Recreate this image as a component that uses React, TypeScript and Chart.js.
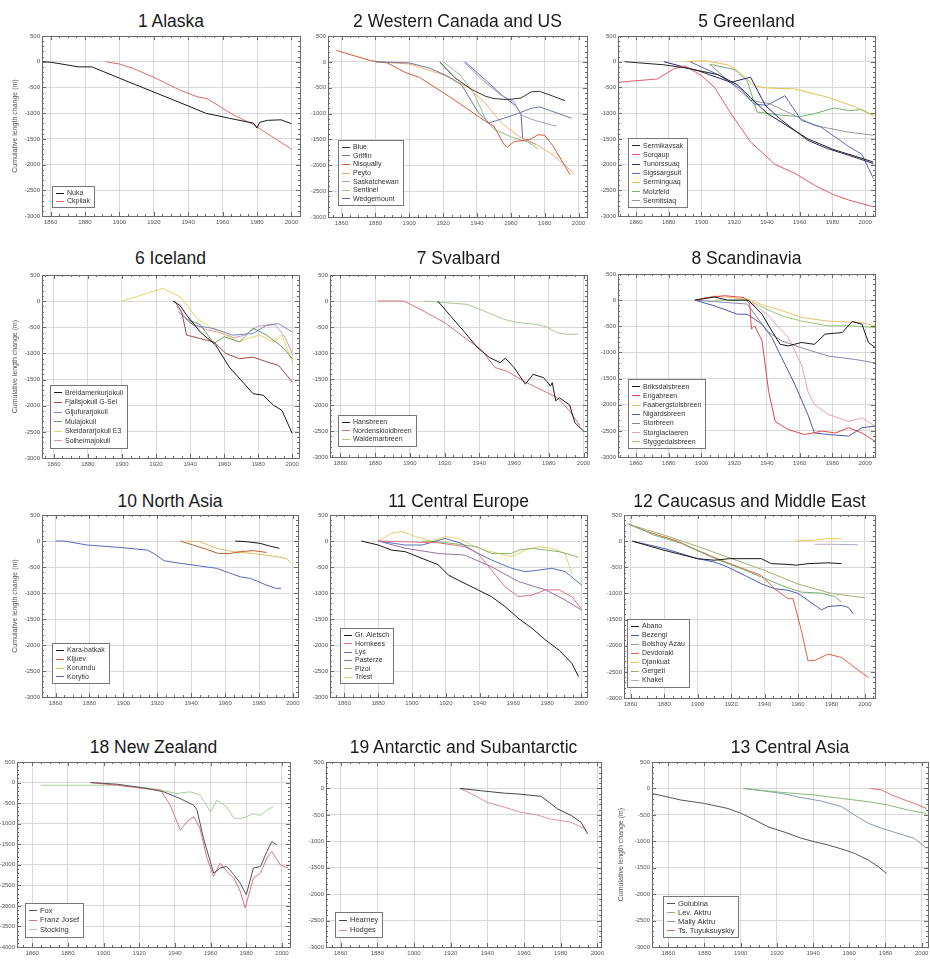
import React, { useEffect, useRef } from 'react';
import { Chart, registerables } from 'chart.js';
Chart.register(...registerables);

type Pt = [number, number];

// ---------- 1 Alaska ----------
const alaskaNames = ['Nuka', 'Ckpilak'];
const nuka: Pt[] = [[1855,0],[1860,-10],[1870,-65],[1876,-100],[1884,-100],[1900,-320],[1920,-590],[1940,-860],[1950,-1000],[1964,-1100],[1978,-1195],[1980,-1290],[1981.5,-1180],[1986,-1140],[1994,-1130],[2000,-1205]];
const ckpilak: Pt[] = [[1892,0],[1900,-45],[1908,-130],[1921,-320],[1935,-550],[1945,-680],[1951,-720],[1958,-860],[1966,-1030],[1978,-1225],[2000,-1700]];

// ---------- 2 Western Canada and US ----------
const wcNames = ['Blue', 'Griffin', 'Nisqually', 'Peyto', 'Saskatchewan', 'Sentinel', 'Wedgemount'];
const blue: Pt[] = [[1918,0],[1927,-310],[1937,-535],[1945,-665],[1950,-710],[1958,-730],[1966,-700],[1972,-580],[1977,-570],[1985,-665],[1992,-750]];
const griffin: Pt[] = [[1880,0],[1900,-20],[1912,-120],[1923,-280],[1931,-450],[1941,-990],[1947,-1180],[1955,-1100],[1964,-1000],[1972,-900],[1977,-870],[1996,-1090]];
const nisqually: Pt[] = [[1857,220],[1877,25],[1887,-20],[1898,-210],[1906,-300],[1925,-700],[1945,-1150],[1950,-1245],[1956,-1600],[1958,-1650],[1962,-1540],[1968,-1520],[1972,-1490],[1976,-1410],[1980,-1420],[1985,-1630],[1995,-2180]];
const peyto: Pt[] = [[1880,0],[1900,-40],[1920,-250],[1935,-500],[1945,-800],[1955,-1200],[1965,-1450],[1975,-1600],[1985,-1800],[1997,-2150]];
const saskatchewan: Pt[] = [[1932,0],[1943,-340],[1954,-640],[1962,-770],[1966,-1030],[1974,-1130],[1987,-1245]];
const sentinel: Pt[] = [[1920,0],[1930,-250],[1938,-600],[1945,-1100],[1950,-1300],[1960,-1450],[1970,-1550],[1976,-1680]];
const wedgemount: Pt[] = [[1933,0],[1945,-350],[1955,-650],[1963,-850],[1966,-1000],[1967,-1480],[1975,-1600]];

// ---------- 5 Greenland ----------
const grNames = ['Sermikavsak', 'Sorqaup', 'Tunorssuaq', 'Sigssargsuit', 'Serminguaq', 'Motzfeld', 'Sermitsiaq'];
const sermikavsak: Pt[] = [[1853,0],[1877,-60],[1890,-120],[1910,-250],[1922,-450],[1930,-700],[1940,-1000],[1950,-1200],[1965,-1500],[1980,-1700],[1995,-1850],[2005,-1950]];
const sorqaup: Pt[] = [[1849,-400],[1873,-335],[1883,-140],[1890,-80],[1900,-270],[1908,-500],[1918,-1010],[1930,-1560],[1945,-2000],[1957,-2170],[1969,-2400],[1981,-2590],[1990,-2690],[2005,-2820]];
const tunorssuaq: Pt[] = [[1877,0],[1898,-175],[1918,-400],[1930,-300],[1939,-850],[1949,-1140],[1965,-1530],[1977,-1690],[1990,-1820],[2005,-1980]];
const sigssargsuit: Pt[] = [[1893,0],[1910,-250],[1924,-530],[1932,-820],[1940,-850],[1951,-660],[1961,-1140],[1973,-1270],[1990,-1650],[1998,-1800],[2005,-2270]];
const serminguaq: Pt[] = [[1890,0],[1902,20],[1916,-60],[1922,-170],[1932,-460],[1939,-510],[1957,-530],[1977,-690],[1994,-880],[2005,-1050]];
const motzfeld: Pt[] = [[1905,-50],[1920,-150],[1928,-370],[1934,-980],[1949,-1040],[1960,-1070],[1969,-1010],[1981,-900],[1990,-950],[1998,-930],[2005,-1050]];
const sermitsiaq: Pt[] = [[1905,-50],[1930,-750],[1942,-820],[1954,-1000],[1969,-1240],[1990,-1370],[2005,-1430]];

// ---------- 6 Iceland ----------
const icNames = ['Breidamerkurjokull', 'Fjallsjokull G-Sel', 'Gljufurarjokull', 'Mulajokull', 'Skeidararjokull E3', 'Solheimajokull'];
const breidamerkur: Pt[] = [[1930,0],[1934,-80],[1938,-270],[1946,-590],[1955,-840],[1963,-1260],[1971,-1550],[1977,-1770],[1983,-1800],[1989,-1990],[1994,-2090],[2000,-2530]];
const fjallsjokull: Pt[] = [[1931,0],[1935,-200],[1938,-650],[1946,-715],[1954,-780],[1961,-1000],[1969,-1100],[1977,-1070],[1985,-1160],[1992,-1230],[2000,-1545]];
const gljufurar: Pt[] = [[1933,-200],[1942,-460],[1954,-525],[1965,-650],[1977,-620],[1985,-460],[1992,-430],[2000,-590]];
const mulajokull: Pt[] = [[1937,-330],[1946,-450],[1954,-810],[1960,-680],[1969,-780],[1977,-520],[1985,-650],[1995,-900],[2000,-1100]];
const skeidarar: Pt[] = [[1900,0],[1924,245],[1928,180],[1934,85],[1939,-110],[1944,-330],[1950,-460],[1955,-560],[1961,-650],[1965,-720],[1969,-780],[1975,-700],[1981,-650],[1985,-720],[1989,-780],[1994,-650],[2000,-1160]];
const solheima: Pt[] = [[1932,-100],[1940,-420],[1950,-550],[1958,-600],[1966,-700],[1972,-650],[1980,-480],[1990,-450],[1996,-700],[2000,-1000]];

// ---------- 7 Svalbard ----------
const svNames = ['Hansbreen', 'Nordenskioldbreen', 'Waldemarbreen'];
const hansbreen: Pt[] = [[1916,0],[1923.5,-290],[1931,-580],[1939,-900],[1946,-1090],[1952,-1185],[1955,-1100],[1960,-1280],[1966.5,-1600],[1971,-1410],[1977,-1475],[1981,-1635],[1982,-1570],[1984,-1920],[1986,-1860],[1992,-2000],[1995,-2340],[2000,-2500]];
const nordenskiold: Pt[] = [[1881.5,0],[1896.5,0],[1906,-160],[1920,-415],[1933,-740],[1941,-930],[1949,-1280],[1956,-1350],[1965.5,-1540],[1977,-1730],[1985,-1860],[1992,-2115],[1998,-2400]];
const waldemar: Pt[] = [[1908,0],[1933,-65],[1942.5,-190],[1954,-350],[1962,-415],[1973,-450],[1979,-500],[1985,-610],[1990,-640],[1997,-640]];

// ---------- 8 Scandinavia ----------
const scNames = ['Briksdalsbreen', 'Engabreen', 'Faabergstolsbreen', 'Nigardsbreen', 'Storbreen', 'Storglaciaeren', 'Styggedalsbreen'];
const briksdal: Pt[] = [[1896,0],[1908,60],[1916,0],[1928.5,0],[1937,-270],[1943,-590],[1948,-845],[1953,-875],[1961,-810],[1969,-845],[1975.5,-650],[1986,-620],[1992,-410],[1998,-460],[2002,-810],[2006,-905]];
const engabreen: Pt[] = [[1896,0],[1904,50],[1914,85],[1926,50],[1929.5,-75],[1930.5,-555],[1932.5,-490],[1937,-780],[1941,-1740],[1945,-2320],[1953,-2475],[1963,-2570],[1973.5,-2505],[1982,-2540],[1990,-2440],[1998,-2540],[2006,-2700]];
const faabergstol: Pt[] = [[1896,0],[1908,80],[1928,20],[1939,-110],[1949,-200],[1961,-330],[1977,-400],[1998,-430],[2006,-490]];
const nigards: Pt[] = [[1896,0],[1908,-110],[1922,-270],[1928,-270],[1937,-460],[1943,-715],[1949,-1100],[1957,-1610],[1965,-2190],[1969,-2540],[1977.6,-2570],[1990,-2600],[1998,-2440],[2006,-2410]];
const storbreen: Pt[] = [[1896,0],[1928,-75],[1940,-590],[1949,-780],[1961,-910],[1977.6,-1070],[1994,-1135],[2006,-1200]];
const storglaciaeren: Pt[] = [[1928,0],[1940,-270],[1953,-715],[1961,-1225],[1965,-1740],[1969,-2000],[1977.6,-2190],[1990,-2320],[1998,-2250],[2006,-2410]];
const styggedal: Pt[] = [[1908,0],[1928,0],[1939,-160],[1949,-300],[1961,-400],[1977,-490],[1990,-490],[2006,-525]];

// ---------- 10 North Asia ----------
const naNames = ['Kara-batkak', 'Kljuev', 'Korumdu', 'Korytio'];
const karaBatkak: Pt[] = [[1966,0],[1973,-15],[1980.6,-45],[1986,-95],[1992,-140]];
const kljuev: Pt[] = [[1933.5,0],[1941,-77],[1949,-160],[1956,-240],[1963,-240],[1969,-205],[1976.7,-185],[1984.5,-220]];
const korumdu: Pt[] = [[1937,0],[1945,-15],[1955,-140],[1965,-205],[1976.7,-240],[1988,-290],[1996,-335],[1999,-420]];
const korytio: Pt[] = [[1860,0],[1865,0],[1878.6,-77],[1900,-130],[1914,-175],[1918,-240],[1924,-380],[1931.6,-420],[1945,-480],[1955,-525],[1963,-620],[1969,-690],[1975,-720],[1984.5,-850],[1990,-910],[1993,-910]];

// ---------- 11 Central Europe ----------
const ceNames = ['Gr. Aletsch', 'Hornkees', 'Lys', 'Pasterze', 'Pizol', 'Triest'];
const aletsch: Pt[] = [[1870,0],[1880,-77],[1888,-175],[1896,-205],[1906,-335],[1915.6,-460],[1921.5,-655],[1929,-780],[1939,-940],[1947,-1070],[1955,-1260],[1963,-1490],[1971,-1680],[1979,-1905],[1987,-2100],[1994.5,-2350],[1998.5,-2610]];
const hornkees: Pt[] = [[1880,0],[1896,-15],[1915.6,-35],[1931.4,-110],[1939,-240],[1947,-560],[1955,-880],[1963,-1070],[1971,-1040],[1979,-940],[1987,-940],[1994.5,-1070],[2000,-1300]];
const lys: Pt[] = [[1880,0],[1896,-77],[1906,-77],[1919.6,50],[1929,-45],[1939,-240],[1947,-365],[1959,-525],[1967,-590],[1975,-560],[1982.7,-525],[1990.6,-590],[2000.4,-850]];
const pasterze: Pt[] = [[1880,0],[1896,-140],[1915.6,-240],[1931,-270],[1947,-495],[1963,-780],[1979,-940],[1990.6,-1135],[2000.4,-1330]];
const pizol: Pt[] = [[1906,0],[1915.6,-15],[1931,-77],[1939,-120],[1947,-240],[1955,-240],[1959,-240],[1963,-175],[1971,-140],[1979,-175],[1987,-205],[1994.5,-270],[1998.5,-315]];
const triest: Pt[] = [[1880,0],[1888,150],[1894,180],[1902,85],[1912,0],[1919.6,85],[1927.5,50],[1935,-75],[1943,-175],[1951,-240],[1959,-300],[1967,-175],[1975,-110],[1982.7,-140],[1990.6,-240],[1994.5,-625]];

// ---------- 12 Caucasus and Middle East ----------
const cmNames = ['Abano', 'Bezengi', 'Bolshoy Azau', 'Devdoraki', 'Djankuat', 'Gergeti', 'Khakel'];
const abano: Pt[] = [[1861,0],[1880,-175],[1900,-335],[1910,-365],[1919,-335],[1938,-335],[1944,-430],[1954,-445],[1959,-460],[1966,-430],[1978,-415],[1986,-430]];
const bezengi: Pt[] = [[1861,0],[1880,-140],[1900,-335],[1910,-400],[1918,-495],[1930,-685],[1938,-815],[1946,-910],[1954,-940],[1960,-1000],[1966,-1135],[1974,-1315],[1978,-1250],[1986,-1230],[1990,-1265],[1993,-1390]];
const bolshoyAzau: Pt[] = [[1858,340],[1874,115],[1890,-40],[1910,-330],[1926,-525],[1938,-685],[1950,-845],[1962,-975],[1974,-995],[1982,-1060],[1986,-1165]];
const devdoraki: Pt[] = [[1859,320],[1870,180],[1888,0],[1900,-175],[1914,-365],[1930,-560],[1938,-655],[1946,-910],[1954,-1100],[1957,-1100],[1962,-1710],[1966,-2290],[1970,-2280],[1978,-2160],[1986,-2225],[1994,-2420],[2002,-2610]];
const djankuat: Pt[] = [[1958,0],[1970,20],[1978,50],[1986,40]];
const gergeti: Pt[] = [[1859,320],[1880,115],[1900,-100],[1920,-330],[1940,-560],[1960,-820],[1980,-1000],[2000,-1085]];
const khakel: Pt[] = [[1970,-60],[1980,-60],[1996,-70]];

// ---------- 18 New Zealand ----------
const nzNames = ['Fox', 'Franz Josef', 'Stocking'];
const fox: Pt[] = [[1892.6,0],[1907.6,-40],[1922.5,-130],[1933.7,-225],[1943,-390],[1950.5,-550],[1952.4,-670],[1956,-1355],[1961.7,-2200],[1965.4,-2080],[1969,-2040],[1973,-2240],[1976.6,-2445],[1980,-2725],[1984,-2080],[1988,-2040],[1991.5,-1680],[1994.3,-1435],[1997,-1515]];
const franzJosef: Pt[] = [[1892.6,0],[1907.6,-65],[1922.5,-145],[1932,-185],[1937.4,-550],[1943,-1155],[1946.8,-950],[1950.5,-830],[1954,-1110],[1958,-1840],[1961.7,-2280],[1965.4,-1960],[1969,-2160],[1973,-2320],[1976.6,-2645],[1979.4,-3050],[1984,-2320],[1988,-2200],[1991.5,-1840],[1994.3,-1680],[1999,-2000],[2003.6,-2080]];
const stocking: Pt[] = [[1864.7,-65],[1885,-65],[1907.6,-65],[1928,-145],[1941,-265],[1948.6,-225],[1954,-300],[1960,-710],[1963.5,-430],[1969,-590],[1973,-870],[1977,-870],[1980,-830],[1984,-760],[1988,-800],[1991.5,-670],[1995,-590]];

// ---------- 19 Antarctic and Subantarctic ----------
const anNames = ['Hearney', 'Hodges'];
const hearney: Pt[] = [[1925,0],[1936.8,-45],[1949.4,-90],[1956.7,-105],[1969.4,-150],[1978.4,-390],[1985.7,-510],[1991.1,-640],[1994.7,-860]];
const hodges: Pt[] = [[1925,0],[1931.5,-105],[1940,-265],[1949.4,-355],[1958,-450],[1967,-500],[1974,-575],[1985.5,-640],[1992.5,-750],[1994.5,-795]];

// ---------- 13 Central Asia ----------
const caNames = ['Golubina', 'Lev. Aktru', 'Maliy Aktru', 'Ts. Tuyuksuyskiy'];
const golubina: Pt[] = [[1851,-95],[1867,-220],[1880,-285],[1893,-380],[1900.5,-475],[1908,-600],[1915,-725],[1924.5,-830],[1933.7,-945],[1941,-1010],[1948.4,-1070],[1957.6,-1165],[1963,-1230],[1970.5,-1355],[1976,-1480],[1980.6,-1610]];
const levAktru: Pt[] = [[1901.4,0],[1922.6,-75],[1941,-125],[1955.8,-190],[1970.5,-250],[1981.5,-315],[1992.6,-410],[2002.7,-475]];
const maliyAktru: Pt[] = [[1901.4,0],[1913.4,-50],[1922.6,-95],[1933.7,-175],[1944.7,-240],[1955.8,-345],[1963,-505],[1970.5,-660],[1978,-755],[1987,-850],[1996,-945],[2002.7,-1135]];
const tuyuksu: Pt[] = [[1971.4,0],[1978,-30],[1983.4,-125],[1990.8,-220],[1996,-285],[2002.7,-380]];

const Y_TITLE = 'Cumulative length change (m)';
const FONT = "'Liberation Sans', Arial, Helvetica, sans-serif";

interface PanelCfg {
  title: string;
  names: string[];
  series: Pt[][];
  colors: string[];
  rect: [number, number, number, number];
  xr: [number, number];
  yr: [number, number];
  canvasLeft: number;
  titleY: number;
  yTitlePad: number | null;
  legend: { dx: number; dy: number; lh: number; fs: number };
}

const PANELS: PanelCfg[] = [
  { title: '1 Alaska', names: alaskaNames, series: [nuka, ckpilak], colors: ['#1a1a1a', '#e06a6a'],
    rect: [42, 36, 300, 216], xr: [1855, 2005], yr: [-3000, 500], canvasLeft: 0, titleY: 21, yTitlePad: 11,
    legend: { dx: 10, dy: 9, lh: 8, fs: 7 } },
  { title: '2 Western Canada and US', names: wcNames, series: [blue, griffin, nisqually, peyto, saskatchewan, sentinel, wedgemount],
    colors: ['#333333', '#6a7a9a', '#d05a3a', '#f0b070', '#a898c8', '#98c088', '#5a6ab8'],
    rect: [328, 36, 587, 217], xr: [1852, 2005], yr: [-3000, 500], canvasLeft: 305, titleY: 21, yTitlePad: null,
    legend: { dx: 10, dy: 12, lh: 8.6, fs: 7 } },
  { title: '5 Greenland', names: grNames, series: [sermikavsak, sorqaup, tunorssuaq, sigssargsuit, serminguaq, motzfeld, sermitsiaq],
    colors: ['#222222', '#e05c6c', '#2a2a6a', '#5a6ac0', '#e8c050', '#78b070', '#999999'],
    rect: [618, 36, 875, 216], xr: [1849, 2006], yr: [-3000, 500], canvasLeft: 595, titleY: 21, yTitlePad: null,
    legend: { dx: 10, dy: 9, lh: 9.2, fs: 7 } },
  { title: '6 Iceland', names: icNames, series: [breidamerkur, fjallsjokull, gljufurar, mulajokull, skeidarar, solheima],
    colors: ['#1a1a1a', '#a04848', '#7888c0', '#6aa060', '#e8d460', '#d898b0'],
    rect: [42, 275, 299, 458], xr: [1853, 2004], yr: [-3000, 500], canvasLeft: 0, titleY: 258, yTitlePad: 11,
    legend: { dx: 8, dy: 10, lh: 9.6, fs: 7 } },
  { title: '7 Svalbard', names: svNames, series: [hansbreen, nordenskiold, waldemar], colors: ['#1a1a1a', '#e07070', '#a8c890'],
    rect: [330, 275, 587, 457], xr: [1854, 2002], yr: [-3000, 500], canvasLeft: 305, titleY: 258, yTitlePad: null,
    legend: { dx: 8, dy: 11, lh: 8.6, fs: 7 } },
  { title: '8 Scandinavia', names: scNames, series: [briksdal, engabreen, faabergstol, nigards, storbreen, storglaciaeren, styggedal],
    colors: ['#1a1a1a', '#e04848', '#e8c070', '#4a5aa8', '#8888a8', '#e8a0b8', '#98c878'],
    rect: [618, 274, 875, 457], xr: [1849, 2006], yr: [-3000, 500], canvasLeft: 595, titleY: 258, yTitlePad: null,
    legend: { dx: 10, dy: 9, lh: 9.2, fs: 7 } },
  { title: '10 North Asia', names: naNames, series: [karaBatkak, kljuev, korumdu, korytio], colors: ['#1a1a1a', '#c06030', '#e0b860', '#5868c0'],
    rect: [42, 515, 298, 697], xr: [1852, 2003], yr: [-3000, 500], canvasLeft: 0, titleY: 501, yTitlePad: 11,
    legend: { dx: 10, dy: 14, lh: 8.8, fs: 7 } },
  { title: '11 Central Europe', names: ceNames, series: [aletsch, hornkees, lys, pasterze, pizol, triest],
    colors: ['#1a1a1a', '#e07080', '#5870c0', '#9870b0', '#88b868', '#e8d070'],
    rect: [330, 515, 587, 697], xr: [1851.5, 2003.5], yr: [-3000, 500], canvasLeft: 305, titleY: 501, yTitlePad: null,
    legend: { dx: 10, dy: 14, lh: 8.4, fs: 7 } },
  { title: '12 Caucasus and Middle East', names: cmNames, series: [abano, bezengi, bolshoyAzau, devdoraki, djankuat, gergeti, khakel],
    colors: ['#1a1a1a', '#4a5ab8', '#78b070', '#e06040', '#e8c850', '#a0b070', '#b8a8c8'],
    rect: [624, 515, 875, 698], xr: [1856, 2006], yr: [-3000, 500], canvasLeft: 597, titleY: 501, yTitlePad: null,
    legend: { dx: 3, dy: 11, lh: 9, fs: 7 } },
  { title: '18 New Zealand', names: nzNames, series: [fox, franzJosef, stocking], colors: ['#555555', '#e07080', '#a8d098'],
    rect: [17, 762, 290, 947], xr: [1851.5, 2004.5], yr: [-4000, 500], canvasLeft: -15, titleY: 747, yTitlePad: null,
    legend: { dx: 8, dy: 10, lh: 9.5, fs: 7.5 } },
  { title: '19 Antarctic and Subantarctic', names: anNames, series: [hearney, hodges], colors: ['#444444', '#e090a0'],
    rect: [326, 762, 601, 947], xr: [1852, 2002], yr: [-3000, 500], canvasLeft: 305, titleY: 747, yTitlePad: null,
    legend: { dx: 9, dy: 10, lh: 10, fs: 7.5 } },
  { title: '13 Central Asia', names: caNames, series: [golubina, levAktru, maliyAktru, tuyuksu], colors: ['#555555', '#88b878', '#8898b8', '#e07070'],
    rect: [652, 762, 928, 947], xr: [1851, 2003.5], yr: [-3000, 500], canvasLeft: 613, titleY: 747, yTitlePad: 4,
    legend: { dx: 11, dy: 10, lh: 9, fs: 7.5 } },
];

const framePlugin = {
  id: 'frame',
  afterDraw(chart: any) {
    const { ctx, chartArea: a, scales } = chart;
    const xs = scales.x, ys = scales.y;
    ctx.save();
    ctx.strokeStyle = '#6a6a6a';
    ctx.lineWidth = 1;
    ctx.beginPath();
    for (let v = Math.ceil(xs.min / 5) * 5; v <= xs.max; v += 5) {
      const p = Math.round(xs.getPixelForValue(v)) + 0.5;
      const len = v % 20 === 0 ? 4 : 2;
      ctx.moveTo(p, a.top); ctx.lineTo(p, a.top + len);
      ctx.moveTo(p, a.bottom); ctx.lineTo(p, a.bottom - len);
    }
    for (let v = Math.ceil(ys.min / 100) * 100; v <= ys.max; v += 100) {
      const p = Math.round(ys.getPixelForValue(v)) + 0.5;
      const len = v % 500 === 0 ? 4 : 2;
      ctx.moveTo(a.left, p); ctx.lineTo(a.left + len, p);
      ctx.moveTo(a.right, p); ctx.lineTo(a.right - len, p);
    }
    ctx.stroke();
    ctx.strokeRect(Math.round(a.left) + 0.5, Math.round(a.top) + 0.5, Math.round(a.right - a.left), Math.round(a.bottom - a.top));
    ctx.restore();
  },
};

const legendPlugin = {
  id: 'miniLegend',
  afterDraw(chart: any, _args: any, opts: any) {
    const { ctx, chartArea: a } = chart;
    const items = chart.data.datasets;
    const fs = opts.fs, lh = opts.lh;
    ctx.save();
    ctx.font = `${fs}px ${FONT}`;
    const textW = Math.max(...items.map((d: any) => ctx.measureText(d.label).width));
    const padX = 4, sample = 8, gap = 3, padY = 2.5;
    const w = Math.round(padX + sample + gap + textW + padX);
    const h = Math.round(items.length * lh + padY * 2);
    const x0 = Math.round(a.left + opts.dx), y0 = Math.round(a.bottom - opts.dy - h);
    ctx.fillStyle = '#ffffff';
    ctx.fillRect(x0, y0, w, h);
    ctx.strokeStyle = '#777777';
    ctx.lineWidth = 1;
    ctx.strokeRect(x0 + 0.5, y0 + 0.5, w, h);
    ctx.textBaseline = 'middle';
    ctx.textAlign = 'left';
    items.forEach((d: any, i: number) => {
      const cy = y0 + padY + lh * (i + 0.5);
      ctx.strokeStyle = d.borderColor;
      ctx.lineWidth = 1;
      ctx.beginPath();
      ctx.moveTo(x0 + padX, Math.round(cy) + 0.5);
      ctx.lineTo(x0 + padX + sample, Math.round(cy) + 0.5);
      ctx.stroke();
      ctx.fillStyle = '#333333';
      ctx.fillText(d.label, x0 + padX + sample + gap, cy + 0.5);
    });
    ctx.restore();
  },
};

const PAD_TOP = 6;
const PAD_RIGHT = 12;
const X_H = 14;

function Panel({ cfg }: { cfg: PanelCfg }) {
  const ref = useRef<HTMLCanvasElement>(null);
  const [L, T, R, B] = cfg.rect;
  const yw = L - cfg.canvasLeft;
  const cw = R - cfg.canvasLeft + PAD_RIGHT;
  const ch = B - T + PAD_TOP + X_H;

  useEffect(() => {
    if (!ref.current) return;
    const tickFont = { family: FONT, size: 6 };
    const chart = new Chart(ref.current, {
      type: 'line',
      data: {
        datasets: cfg.series.map((s, i) => ({
          label: cfg.names[i],
          data: s.map(([x, y]) => ({ x, y })),
          borderColor: cfg.colors[i],
          backgroundColor: cfg.colors[i],
          borderWidth: 1,
          pointRadius: 0,
          fill: false,
          tension: 0,
        })),
      },
      options: {
        animation: false,
        responsive: false,
        maintainAspectRatio: false,
        events: [],
        layout: { padding: { top: PAD_TOP, right: PAD_RIGHT, left: 0, bottom: 0 } },
        plugins: {
          legend: { display: false },
          tooltip: { enabled: false },
          title: { display: false },
          miniLegend: cfg.legend,
        } as any,
        scales: {
          x: {
            type: 'linear',
            min: cfg.xr[0],
            max: cfg.xr[1],
            afterBuildTicks: (s: any) => {
              s.ticks = s.ticks.filter((t: any) => t.value % 20 === 0 && t.value >= 1860 && t.value <= 2000);
            },
            ticks: {
              stepSize: 20, includeBounds: false, autoSkip: false, maxRotation: 0, minRotation: 0,
              padding: 3, color: '#555555', font: tickFont,
              callback: (v: any) => String(v),
            },
            grid: { color: '#d9d9d9', drawTicks: false, lineWidth: 1 },
            border: { display: false },
            afterFit: (s: any) => { s.height = X_H; },
          },
          y: {
            type: 'linear',
            min: cfg.yr[0],
            max: cfg.yr[1],
            ticks: {
              stepSize: 500, autoSkip: false, padding: 2, color: '#555555', font: tickFont,
              callback: (v: any) => String(v),
            },
            grid: { color: '#d9d9d9', drawTicks: false, lineWidth: 1 },
            border: { display: false },
            title: {
              display: cfg.yTitlePad !== null,
              text: Y_TITLE,
              color: '#555555',
              font: { family: FONT, size: 7 },
              padding: { top: cfg.yTitlePad ?? 0, bottom: 0 },
            },
            afterFit: (s: any) => { s.width = yw; },
          },
        },
      } as any,
      plugins: [framePlugin, legendPlugin],
    });
    return () => chart.destroy();
  }, []);

  return (
    <>
      <div
        style={{
          position: 'absolute', left: L - 40, width: R - L + 80, top: cfg.titleY - 11, height: 22,
          lineHeight: '22px', textAlign: 'center', fontFamily: FONT, fontSize: 17.5, color: '#1a1a1a', whiteSpace: 'nowrap',
        }}
      >
        {cfg.title}
      </div>
      <canvas
        ref={ref}
        width={cw}
        height={ch}
        style={{ position: 'absolute', left: cfg.canvasLeft, top: T - PAD_TOP, width: cw, height: ch }}
      />
    </>
  );
}

export default function App() {
  return (
    <div style={{ position: 'absolute', left: 0, top: 0, width: 930, height: 967, overflow: 'hidden', background: '#ffffff' }}>
      {PANELS.map((p) => (
        <Panel key={p.title} cfg={p} />
      ))}
    </div>
  );
}
